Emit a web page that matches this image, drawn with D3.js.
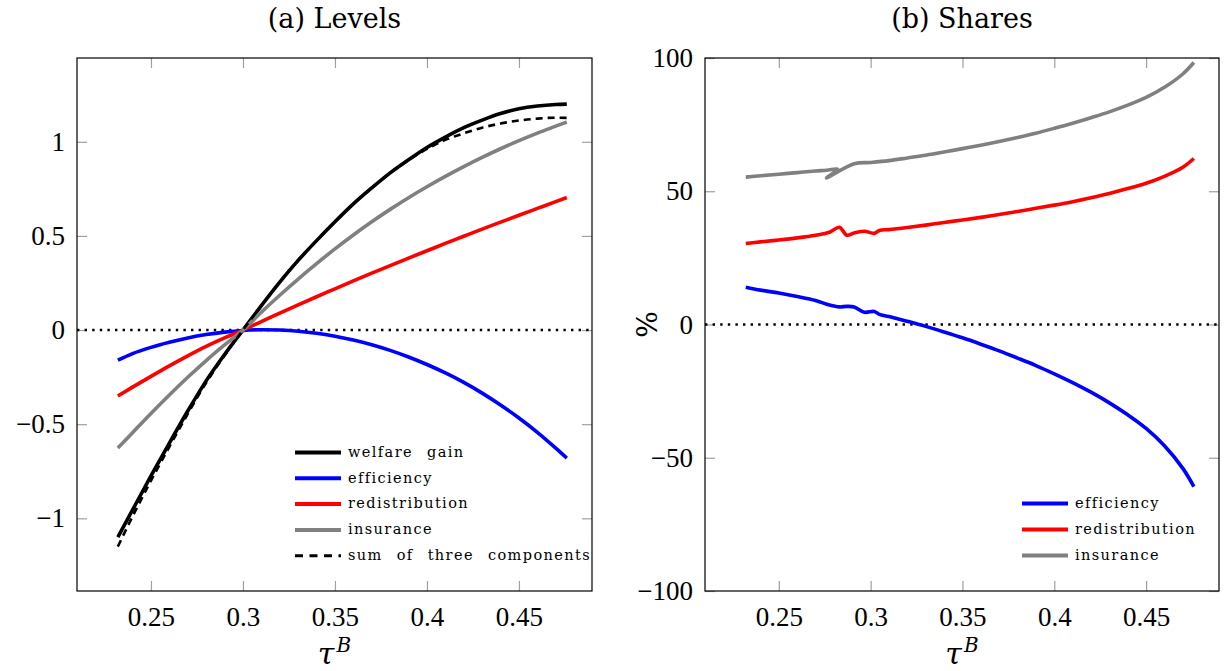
<!DOCTYPE html>
<html>
<head>
<meta charset="utf-8">
<script src="https://cdn.jsdelivr.net/npm/d3@7"></script>
<style>
body { margin: 0; background: #fff; }
svg text { font-family: "DejaVu Serif", serif; fill: #000; }
</style>
</head>
<body>
<script>
// (a) levels
const tauLevels = [0.232, 0.24, 0.25, 0.26, 0.27, 0.28, 0.29, 0.30, 0.31, 0.32, 0.33, 0.34, 0.35,
    0.36, 0.37, 0.38, 0.39, 0.40, 0.41, 0.42, 0.43, 0.44, 0.45, 0.46, 0.47, 0.476]
const welfareGain = [-1.10, -0.955, -0.775, -0.60, -0.43, -0.27, -0.13, 0.0, 0.13, 0.255, 0.37, 0.475, 0.575,
    0.67, 0.755, 0.835, 0.905, 0.97, 1.025, 1.075, 1.115, 1.15, 1.175, 1.19, 1.198, 1.20]
const efficiencyLevel = [-0.16, -0.125, -0.092, -0.065, -0.042, -0.024, -0.011, -0.002, 0.002, 0.0, -0.006, -0.017, -0.033,
    -0.053, -0.078, -0.108, -0.143, -0.183, -0.228, -0.278, -0.335, -0.398, -0.467, -0.543, -0.627, -0.68]
const redistributionLevel = [-0.35, -0.303, -0.246, -0.19, -0.137, -0.087, -0.042, 0.0, 0.045, 0.09, 0.134, 0.177, 0.219,
    0.261, 0.302, 0.342, 0.382, 0.421, 0.46, 0.498, 0.536, 0.573, 0.61, 0.646, 0.682, 0.704]
const insuranceLevel = [-0.627, -0.545, -0.443, -0.345, -0.251, -0.162, -0.079, 0.0, 0.095, 0.185, 0.271, 0.353, 0.431,
    0.505, 0.575, 0.641, 0.703, 0.761, 0.816, 0.868, 0.917, 0.963, 1.006, 1.046, 1.083, 1.105]
const sumComponents = [-1.15, -0.99, -0.80, -0.62, -0.445, -0.28, -0.135, 0.0, 0.13, 0.255, 0.37, 0.475, 0.575,
    0.67, 0.755, 0.835, 0.903, 0.962, 1.01, 1.045, 1.075, 1.097, 1.113, 1.123, 1.128, 1.127]

// (b) shares, in %
const tauShares = [0.232, 0.24, 0.25, 0.26, 0.27, 0.2776, 0.283, 0.287, 0.291, 0.2966, 0.302, 0.3047, 0.31,
    0.32, 0.33, 0.34, 0.35, 0.36, 0.37, 0.38, 0.39, 0.40, 0.41, 0.42, 0.43, 0.44, 0.45, 0.46, 0.47, 0.476]
const efficiencyShare = [14.0, 12.9, 11.8, 10.5, 9.0, 7.3, 6.6, 6.8, 6.6, 4.6, 4.9, 3.8, 3.0,
    1.2, -0.7, -2.8, -5.0, -7.4, -9.9, -12.6, -15.4, -18.5, -21.8, -25.4, -29.4, -33.9, -39.0, -45.5, -54.0, -60.8]
const redistributionShare = [30.4, 31.0, 31.7, 32.5, 33.5, 34.6, 36.5, 33.5, 34.3, 35.0, 34.2, 35.3, 35.6,
    36.4, 37.3, 38.3, 39.2, 40.2, 41.3, 42.4, 43.6, 44.8, 46.1, 47.6, 49.2, 51.0, 53.0, 55.6, 59.0, 62.3]
const tauInsShare = [0.232, 0.24, 0.25, 0.26, 0.27, 0.276, 0.282, 0.276, 0.291, 0.30, 0.31, 0.32, 0.33, 0.34,
    0.35, 0.36, 0.37, 0.38, 0.39, 0.40, 0.41, 0.42, 0.43, 0.44, 0.45, 0.46, 0.47, 0.476]
const insuranceShare = [55.3, 55.8, 56.4, 57.0, 57.6, 57.9, 58.3, 55.0, 60.3, 60.8, 61.5, 62.5, 63.5, 64.7,
    66.0, 67.3, 68.7, 70.2, 71.8, 73.6, 75.5, 77.6, 79.8, 82.3, 85.2, 89.0, 94.0, 98.3]

const xTicks = [0.25, 0.3, 0.35, 0.4, 0.45]
const levelTicks = [-1, -0.5, 0, 0.5, 1]
const shareTicks = [-100, -50, 0, 50, 100]

const serif = '"Liberation Serif", "Times New Roman", "DejaVu Serif", serif'

const svg = d3.select('body').append('svg')
    .attr('width', 1230)
    .attr('height', 671)
    .attr('font-family', serif)
    .style('font-family', serif)

const minus = d => d < 0 ? '\u2212' + Math.abs(d) : String(d)

const zip = (xs, ys) => xs.map((x, i) => [x, ys[i]])

const panel = (p) => {
    let x = d3.scaleLinear().domain([0.2098, 0.4897]).range([p.left, p.right])
    let y = d3.scaleLinear().domain(p.yDomain).range([p.bottom, p.top])
    let g = svg.append('g')

    // ticks on all four sides, pointing in
    let tickStyle = sel => {
        sel.attr('font-family', null)
        sel.select('.domain').remove()
        sel.selectAll('.tick line').attr('stroke', '#a0a0a0').attr('stroke-width', 1.2)
        sel.selectAll('.tick text').attr('font-size', 27).attr('fill', '#000')
            .style('font-family', serif)
    }
    g.append('g').attr('transform', `translate(0,${p.bottom})`)
        .call(d3.axisBottom(x).tickValues(xTicks).tickSize(-10).tickPadding(16).tickFormat(d => String(d)))
        .call(tickStyle)
    g.append('g').attr('transform', `translate(0,${p.top})`)
        .call(d3.axisTop(x).tickValues(xTicks).tickSize(-10).tickFormat(''))
        .call(tickStyle)
    g.append('g').attr('transform', `translate(${p.left},0)`)
        .call(d3.axisLeft(y).tickValues(p.yTicks).tickSize(-10).tickPadding(12).tickFormat(minus))
        .call(tickStyle)
    g.append('g').attr('transform', `translate(${p.right},0)`)
        .call(d3.axisRight(y).tickValues(p.yTicks).tickSize(-10).tickFormat(''))
        .call(tickStyle)

    // zero line
    g.append('line')
        .attr('x1', p.left).attr('x2', p.right)
        .attr('y1', y(0)).attr('y2', y(0))
        .attr('stroke', '#000').attr('stroke-width', 2.4)
        .attr('stroke-dasharray', '2.4,5.2')

    let line = d3.line().x(d => x(d[0])).y(d => y(d[1])).curve(d3.curveMonotoneX)
    let jagged = d3.line().x(d => x(d[0])).y(d => y(d[1])).curve(d3.curveCatmullRom.alpha(0.5))
    p.series.forEach(s => {
        g.append('path')
            .datum(s.data)
            .attr('d', s.jagged ? jagged : line)
            .attr('fill', 'none')
            .attr('stroke', s.color)
            .attr('stroke-width', s.dash ? 2.6 : 3.6)
            .attr('stroke-linejoin', 'round')
            .attr('stroke-dasharray', s.dash || null)
    })

    // frame
    g.append('rect')
        .attr('x', p.left).attr('y', p.top)
        .attr('width', p.right - p.left).attr('height', p.bottom - p.top)
        .attr('fill', 'none').attr('stroke', '#000').attr('stroke-width', 1.2)

    // legend
    p.series.forEach((s, i) => {
        let ly = p.legend.y + i * p.legend.step
        g.append('line')
            .attr('x1', p.legend.x).attr('x2', p.legend.x + 46)
            .attr('y1', ly).attr('y2', ly)
            .attr('stroke', s.color)
            .attr('stroke-width', s.dash ? 3 : 4)
            .attr('stroke-dasharray', s.dash ? '8,6.5' : null)
        g.append('text')
            .attr('x', p.legend.x + 53).attr('y', ly)
            .attr('dy', '0.3em')
            .attr('font-size', 14.5)
            .attr('letter-spacing', 1.4)
            .attr('word-spacing', 8)
            .text(s.name)
    })

    // title and x label
    let cx = (p.left + p.right) / 2
    g.append('text')
        .attr('x', cx).attr('y', 28)
        .attr('text-anchor', 'middle')
        .attr('font-size', 27)
        .text(p.title)
    let xl = g.append('text')
        .attr('x', cx).attr('y', 664)
        .attr('text-anchor', 'middle')
        .attr('font-size', 30)
    xl.append('tspan').attr('font-style', 'italic').text('\u03c4')
    xl.append('tspan').attr('font-size', 20).attr('font-style', 'italic').attr('dy', -12).attr('dx', 2).text('B')

    if (p.yLabel) {
        g.append('text')
            .attr('transform', `translate(${p.left - 48},${y(0)}) rotate(-90)`)
            .attr('text-anchor', 'middle')
            .attr('font-size', 28)
            .text(p.yLabel)
    }
}

panel({
    left: 77, right: 592, top: 58, bottom: 591,
    yDomain: [-1.386, 1.445], yTicks: levelTicks,
    title: '(a) Levels',
    legend: { x: 295, y: 452.5, step: 25.8 },
    series: [
        { name: 'welfare gain', color: '#000', data: zip(tauLevels, welfareGain) },
        { name: 'efficiency', color: '#0000ff', data: zip(tauLevels, efficiencyLevel) },
        { name: 'redistribution', color: '#ff0000', data: zip(tauLevels, redistributionLevel) },
        { name: 'insurance', color: '#808080', data: zip(tauLevels, insuranceLevel) },
        { name: 'sum of three components', color: '#000', dash: '7,5', data: zip(tauLevels, sumComponents) }
    ]
})

panel({
    left: 705, right: 1219, top: 58, bottom: 591,
    yDomain: [-100, 100], yTicks: shareTicks,
    title: '(b) Shares',
    yLabel: '%',
    legend: { x: 1022, y: 503.5, step: 26 },
    series: [
        { name: 'efficiency', color: '#0000ff', jagged: true, data: zip(tauShares, efficiencyShare) },
        { name: 'redistribution', color: '#ff0000', jagged: true, data: zip(tauShares, redistributionShare) },
        { name: 'insurance', color: '#808080', jagged: true, data: zip(tauInsShare, insuranceShare) }
    ]
})
</script>
</body>
</html>
